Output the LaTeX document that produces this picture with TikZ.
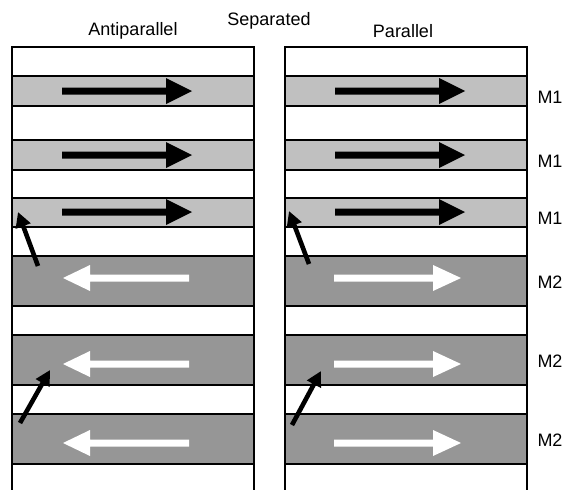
\documentclass[tikz,border=0pt]{standalone}
\usepackage{fontspec}
\setmainfont{Liberation Sans}
\usetikzlibrary{arrows.meta}
\definecolor{mone}{gray}{0.753}
\definecolor{mtwo}{gray}{0.588}
\begin{document}
\begin{tikzpicture}[x=1pt,y=-1pt,
  layerline/.style={draw=black,line width=1.4pt},
  lbl/.style={font=\fontsize{18}{21}\selectfont,anchor=base,inner sep=0pt},
  diag/.style={line width=4.6pt,-{Triangle[length=15pt,width=15pt]}}]
\useasboundingbox (0,0) rectangle (565,490);
\clip (0,0) rectangle (565,490);
\foreach \L/\R in {12/254,285/527}{
  \fill[white,layerline] (\L,47) rectangle (\R,500);
  \foreach \a/\b in {76/106,140/170,198/227}
    \filldraw[fill=mone,layerline] (\L,\a) rectangle (\R,\b);
  \foreach \a/\b in {256/306,335/385,414/464}
    \filldraw[fill=mtwo,layerline] (\L,\a) rectangle (\R,\b);
  % black arrows in M1
  \foreach \c in {91,155,212}
    \fill[black] (\L+50,\c-3.5) -- (\L+154,\c-3.5) -- (\L+154,\c-13) -- (\L+180,\c)
      -- (\L+154,\c+13) -- (\L+154,\c+3.5) -- (\L+50,\c+3.5) -- cycle;
}
% white arrows, left column (pointing left)
\foreach \c in {278,364,443}
  \fill[white] (12+177,\c-3.5) -- (12+78,\c-3.5) -- (12+78,\c-13) -- (12+51,\c)
    -- (12+78,\c+13) -- (12+78,\c+3.5) -- (12+177,\c+3.5) -- cycle;
% white arrows, right column (pointing right)
\foreach \c in {278,364,443}
  \fill[white] (285+49,\c-3.5) -- (285+148,\c-3.5) -- (285+148,\c-13) -- (285+176,\c)
    -- (285+148,\c+13) -- (285+148,\c+3.5) -- (285+49,\c+3.5) -- cycle;
% diagonal arrows
\coordinate (a1s) at (38,266); \coordinate (a1e) at (18,212);
\coordinate (a2s) at (20,423); \coordinate (a2e) at (50,370);
\coordinate (b1s) at (309,264); \coordinate (b1e) at (289,211);
\coordinate (b2s) at (292,425); \coordinate (b2e) at (321,371);
\draw[diag] (a1s) -- (a1e);
\draw[diag] (a2s) -- (a2e);
\draw[diag] (b1s) -- (b1e);
\draw[diag] (b2s) -- (b2e);
% titles
\node[lbl] (tanti) at (133,35) {Antiparallel};
\node[lbl] (tsep) at (269,25) {Separated};
\node[lbl] (tpar) at (403,37) {Parallel};
% labels
\foreach \y [count=\i] in {103,167,224}
  \node[lbl] (m1\i) at (550,\y) {M1};
\foreach \y [count=\i] in {288,367,446}
  \node[lbl] (m2\i) at (550,\y) {M2};
\end{tikzpicture}
\end{document}
